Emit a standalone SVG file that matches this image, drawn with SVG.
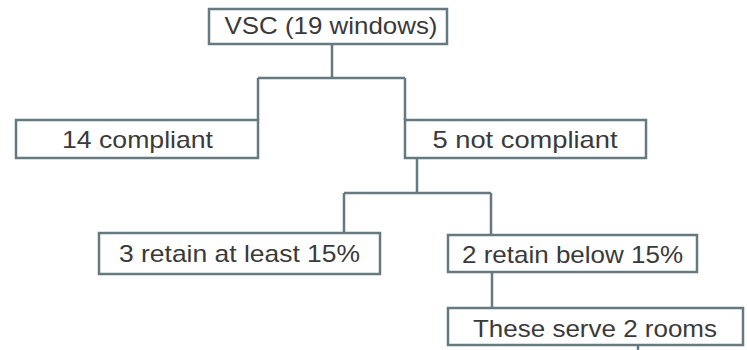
<svg xmlns="http://www.w3.org/2000/svg" width="747" height="350" viewBox="0 0 747 350">
<style>
.box{fill:#ffffff;stroke:#657a80;stroke-width:2.5}
.lbl{font-family:"Liberation Sans",Arial,sans-serif;font-size:24px;fill:#3a3a3a;text-anchor:middle}
.con{fill:none;stroke:#657a80;stroke-width:2.5}
</style>
<rect width="747" height="350" fill="#ffffff"/>
<g id="connectors">
<path class="con" d="M332,44 V78 M258,78 H405 M258,78 V120 M405,78 V120"/>
<path class="con" d="M417,158 V193 M344,193 H491 M344,193 V233 M491,193 V235"/>
<path class="con" d="M492,272 V308"/>
<path class="con" d="M638,345 V350"/>
</g>
<g id="vsc">
<rect class="box" x="209" y="9" width="238" height="35"/>
<text class="lbl" x="331" y="34" textLength="213" lengthAdjust="spacingAndGlyphs">VSC (19 windows)</text>
</g>
<g id="compliant">
<rect class="box" x="16" y="120" width="242" height="38"/>
<text class="lbl" x="137.5" y="148" textLength="151" lengthAdjust="spacingAndGlyphs">14 compliant</text>
</g>
<g id="notcompliant">
<rect class="box" x="405" y="120" width="241" height="38"/>
<text class="lbl" x="525" y="148" textLength="185" lengthAdjust="spacingAndGlyphs">5 not compliant</text>
</g>
<g id="retain15">
<rect class="box" x="99" y="233" width="281" height="41"/>
<text class="lbl" x="239.5" y="262" textLength="241" lengthAdjust="spacingAndGlyphs">3 retain at least 15%</text>
</g>
<g id="below15">
<rect class="box" x="448" y="235" width="249" height="37"/>
<text class="lbl" x="572.5" y="263" textLength="221" lengthAdjust="spacingAndGlyphs">2 retain below 15%</text>
</g>
<g id="rooms">
<rect class="box" x="448" y="308" width="295" height="37"/>
<text class="lbl" x="595" y="337" textLength="244" lengthAdjust="spacingAndGlyphs">These serve 2 rooms</text>
</g>
</svg>
